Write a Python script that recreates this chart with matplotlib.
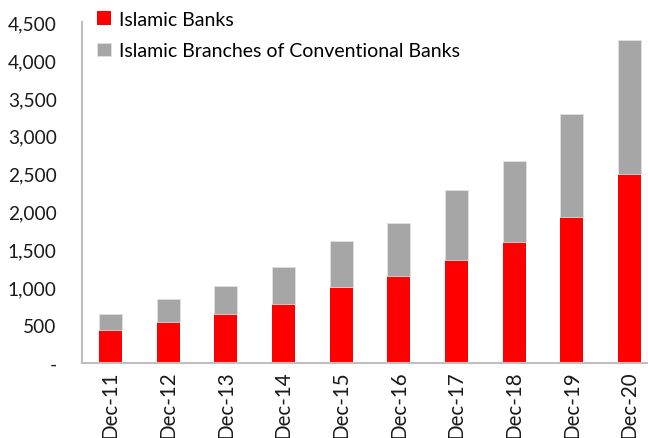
import matplotlib
matplotlib.use("Agg")
import matplotlib.pyplot as plt
from matplotlib.ticker import FuncFormatter

years = ["Dec-11", "Dec-12", "Dec-13", "Dec-14", "Dec-15",
         "Dec-16", "Dec-17", "Dec-18", "Dec-19", "Dec-20"]
islamic_banks = [440, 540, 645, 776, 1000, 1150, 1355, 1592, 1930, 2500]
totals = [645, 842, 1017, 1263, 1614, 1855, 2280, 2667, 3285, 4267]
branches = [t - b for t, b in zip(totals, islamic_banks)]

plt.rcParams["font.family"] = ["Lato", "DejaVu Sans"]

fig = plt.figure(figsize=(6.48, 4.39), dpi=100)
ax = fig.add_axes([0.126, 0.171, 0.890, 0.776])

x = range(len(years))
ax.bar(x, islamic_banks, width=0.4, color="#ff0000", label="Islamic Banks")
ax.bar(x, branches, width=0.4, bottom=islamic_banks, color="#a6a6a6",
       edgecolor="#e0e0e0", linewidth=0.6,
       label="Islamic Branches of Conventional Banks")

ax.set_xlim(-0.5, 9.5)
ax.set_ylim(0, 4500)
ax.set_yticks(range(0, 4501, 500))
ax.yaxis.set_major_formatter(FuncFormatter(lambda v, p: "-" if v == 0 else f"{int(v):,}"))
ax.set_xticks(list(x))
ax.set_xticklabels(years, rotation=90)

ax.tick_params(axis="y", length=0, pad=18, labelsize=13.8, colors="#1a1a1a")
ax.tick_params(axis="x", length=0, pad=5, labelsize=14.8, colors="#1a1a1a")

for s in ["top", "right"]:
    ax.spines[s].set_visible(False)
for s in ["left", "bottom"]:
    ax.spines[s].set_color("#bfbfbf")
    ax.spines[s].set_linewidth(1.5)

ax.legend(loc="upper left", bbox_to_anchor=(0.014, 1.057), frameon=False,
          fontsize=14, handlelength=0.7, handleheight=0.7,
          handletextpad=0.4, labelspacing=0.75, borderaxespad=0)

fig.savefig("out.png", dpi=100)
